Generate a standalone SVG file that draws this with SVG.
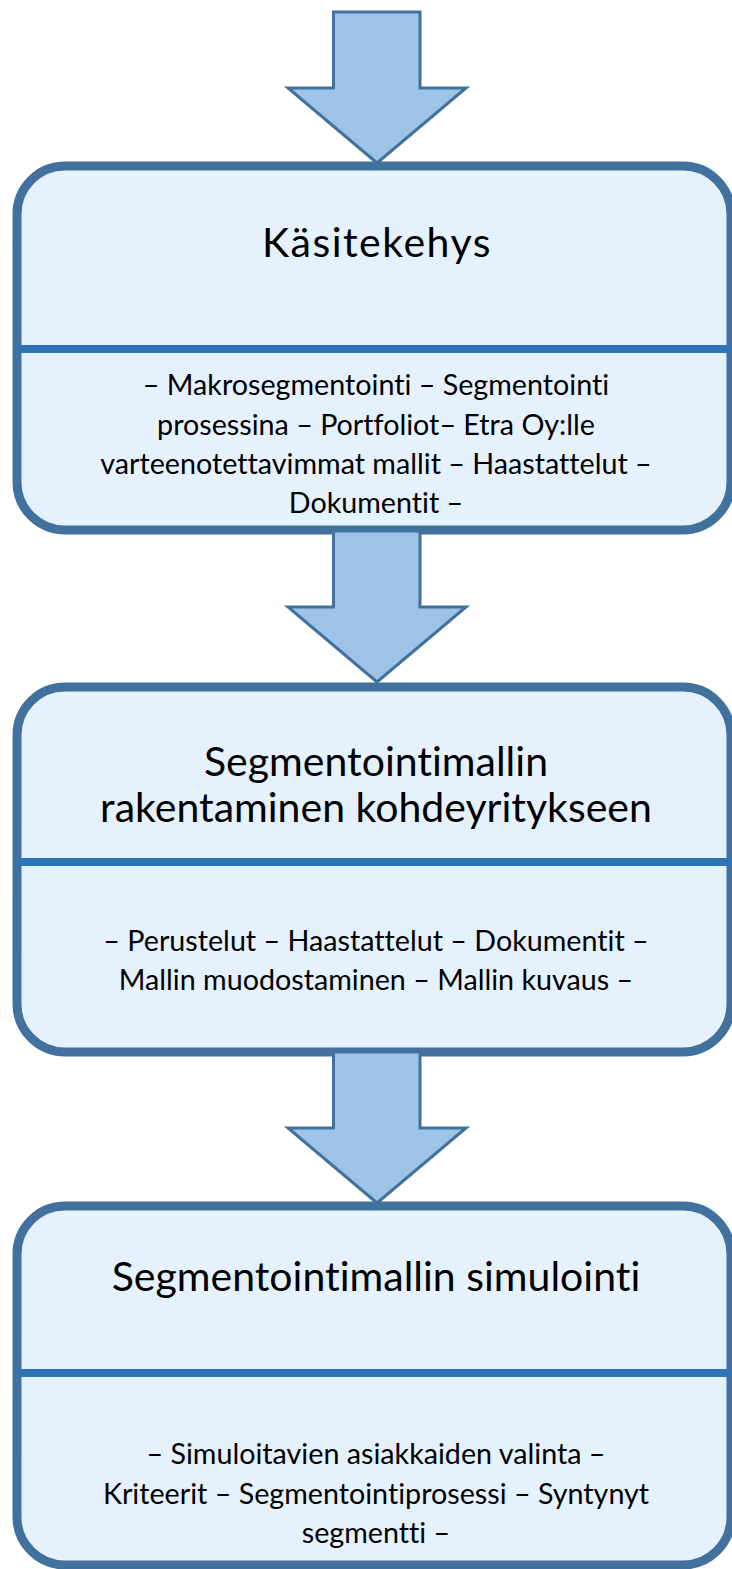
<svg xmlns="http://www.w3.org/2000/svg" width="732" height="1569" viewBox="0 0 732 1569">
  <style>
    .box { fill: #e5f1fd; stroke: #41719c; stroke-width: 9; }
    .divider { stroke: #2e75b6; stroke-width: 8; }
    .arrow { fill: #9dc3e6; stroke: #41719c; stroke-width: 3; stroke-linejoin: miter; }
    text { font-family: Lato, "Liberation Sans", sans-serif; fill: #000; text-anchor: middle; font-variant-ligatures: none; }
    .title { font-size: 41px; }
    .body { font-size: 28.7px; }
  </style>
  <defs>
    <path id="down-arrow" class="arrow" d="M333.5 0 H420 V76 H466 L377 151 L288 76 H333.5 Z"/>
  </defs>

  <!-- Stage 1 -->
  <g id="node-kasitekehys">
    <rect class="box" x="17" y="166" width="714" height="364" rx="48" ry="48"/>
    <line class="divider" x1="17" y1="349" x2="731" y2="349"/>
    <text class="title" x="377" y="257" letter-spacing="1.5">Käsitekehys</text>
    <text class="body" x="376" y="395">– Makrosegmentointi – Segmentointi</text>
    <text class="body" x="376" y="435">prosessina – Portfoliot– Etra Oy:lle</text>
    <text class="body" x="376" y="474">varteenotettavimmat mallit – Haastattelut –</text>
    <text class="body" x="376" y="513">Dokumentit –</text>
  </g>

  <!-- Stage 2 -->
  <g id="node-mallin-rakentaminen">
    <rect class="box" x="17" y="687" width="714" height="365" rx="48" ry="48"/>
    <line class="divider" x1="17" y1="862" x2="731" y2="862"/>
    <text class="title" x="376" y="776">Segmentointimallin</text>
    <text class="title" x="376" y="822">rakentaminen kohdeyritykseen</text>
    <text class="body" x="376" y="951">– Perustelut – Haastattelut – Dokumentit –</text>
    <text class="body" x="376" y="990">Mallin muodostaminen – Mallin kuvaus –</text>
  </g>

  <!-- Stage 3 -->
  <g id="node-simulointi">
    <rect class="box" x="17" y="1206" width="714" height="359" rx="48" ry="48"/>
    <line class="divider" x1="17" y1="1373" x2="731" y2="1373"/>
    <text class="title" x="376" y="1291">Segmentointimallin simulointi</text>
    <text class="body" x="376" y="1464">– Simuloitavien asiakkaiden valinta –</text>
    <text class="body" x="376" y="1504">Kriteerit – Segmentointiprosessi – Syntynyt</text>
    <text class="body" x="376" y="1543">segmentti –</text>
  </g>

  <!-- Flow arrows -->
  <g id="connectors">
    <use href="#down-arrow" transform="translate(0 12)"/>
    <use href="#down-arrow" transform="translate(0 531)"/>
    <use href="#down-arrow" transform="translate(0 1052)"/>
  </g>
</svg>
